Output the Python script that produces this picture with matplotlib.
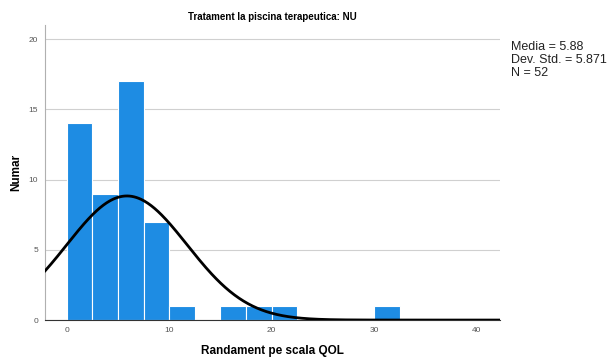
import numpy as np
import matplotlib
matplotlib.use("Agg")
import matplotlib.pyplot as plt

bin_edges = [0, 2.5, 5, 7.5, 10, 12.5, 15, 17.5, 20, 22.5, 25, 27.5, 30, 32.5]
counts = [14, 9, 17, 7, 1, 0, 1, 1, 1, 0, 0, 0, 1]
mean = 5.88
sd = 5.871
n = 52
title = "Tratament la piscina terapeutica: NU"
xlabel = "Randament pe scala QOL"
ylabel = "Numar"

plt.rcParams['font.family'] = ['Liberation Sans', 'DejaVu Sans']
fig = plt.figure(figsize=(6.1, 3.58), dpi=100)
ax = fig.add_axes([0.074, 0.106, 0.746, 0.824])

lefts = bin_edges[:-1]
widths = np.diff(bin_edges)
ax.bar(lefts, counts, width=widths, align='edge', color='#1e8ce3',
       edgecolor='white', linewidth=0.8, zorder=2)

xs = np.linspace(-2.1, 42.3, 400)
binw = 2.5
ys = n * binw / (sd * np.sqrt(2 * np.pi)) * np.exp(-0.5 * ((xs - mean) / sd) ** 2)
ax.plot(xs, ys, color='black', lw=2, zorder=3)

ax.set_xlim(-2.1, 42.3)
ax.set_ylim(0, 21)
ax.set_yticks([0, 5, 10, 15, 20])
ax.set_xticks([0, 10, 20, 30, 40])
ax.yaxis.grid(True, color='#d0d0d0', lw=0.8, zorder=0)
ax.set_axisbelow(True)
for s in ['top', 'right']:
    ax.spines[s].set_visible(False)
ax.spines['left'].set_color('#b0b0b0')
ax.spines['bottom'].set_color('#333333')
ax.tick_params(axis='both', length=0, labelsize=6, colors='#555555', pad=5)

ax.set_title(title, fontsize=7, fontweight='bold', pad=4)
ax.set_xlabel(xlabel, fontsize=8.5, fontweight='bold', labelpad=8)
ax.set_ylabel(ylabel, fontsize=8.5, fontweight='bold', labelpad=5)

fig.text(0.838, 0.885, f"Media = {mean:.2f}\nDev. Std. = {sd:.3f}\nN = {n}",
         fontsize=9, va='top', ha='left', color='#222222', linespacing=1.1)

fig.savefig("out.png", dpi=100)
